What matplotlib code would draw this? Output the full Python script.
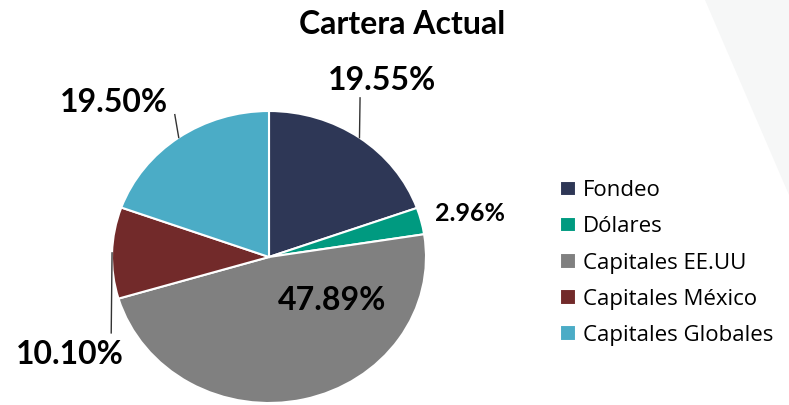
import numpy as np
import matplotlib.pyplot as plt
from matplotlib.patches import Polygon

plt.rcParams['font.family'] = ['Lato', 'DejaVu Sans']

# data
categorias = ['Fondeo', 'Dólares', 'Capitales EE.UU', 'Capitales México', 'Capitales Globales']
porcentajes = [19.55, 2.96, 47.89, 10.10, 19.50]
colores = ['#2E3756', '#009A80', '#808080', '#722A2A', '#4BACC6']

# label layout (axes data units, pie radius = 1)
pos_etiqueta = [(0.72, 1.21), (1.28, 0.30), (0.40, -0.30), (-1.27, -0.67), (-0.99, 1.06)]
fin_guia = [(0.58, 1.09), None, None, (-1.005, -0.52), (-0.60, 0.975)]
tam_etiqueta = [23, 18, 23, 23, 23]

fig = plt.figure(figsize=(7.89, 4.05), dpi=100)

# faint background shape at top right
fig.patches.append(Polygon([(705 / 789, 1), (1, 1), (1, 1 - 195 / 405)],
                           closed=True, transform=fig.transFigure,
                           facecolor='#F6F7F7', edgecolor='none', zorder=0))

ax = fig.add_axes([112 / 789, 2 / 405, 314 / 789, 292 / 405])
wedges, _ = ax.pie(porcentajes, colors=colores, startangle=90, counterclock=False,
                   wedgeprops=dict(edgecolor='white', linewidth=1.5))
ax.set_aspect('auto')
ax.set_xlim(-1, 1)
ax.set_ylim(-1, 1)

for w, val, pos, fin, fs in zip(wedges, porcentajes, pos_etiqueta, fin_guia, tam_etiqueta):
    ax.text(pos[0], pos[1], f'{val:.2f}%', ha='center', va='center',
            fontsize=fs, fontweight='bold', color='black')
    if fin is not None:
        ang = np.deg2rad((w.theta1 + w.theta2) / 2)
        x0, y0 = np.cos(ang), np.sin(ang)
        ax.plot([x0, fin[0]], [y0, fin[1]], color='#333333', lw=1, clip_on=False)

fig.text(402 / 789, 1 - 25 / 405, 'Cartera Actual', ha='center', va='center',
         fontsize=23, fontweight='bold')

fig.legend(wedges, categorias, loc='center left',
           bbox_to_anchor=(560 / 789, 1 - 263 / 405), frameon=False,
           prop={'family': ['Open Sans', 'DejaVu Sans'], 'size': 16},
           handlelength=0.7, handleheight=0.7, handletextpad=0.35,
           labelspacing=0.68, borderpad=0, borderaxespad=0)

fig.savefig('out.png', dpi=100)
